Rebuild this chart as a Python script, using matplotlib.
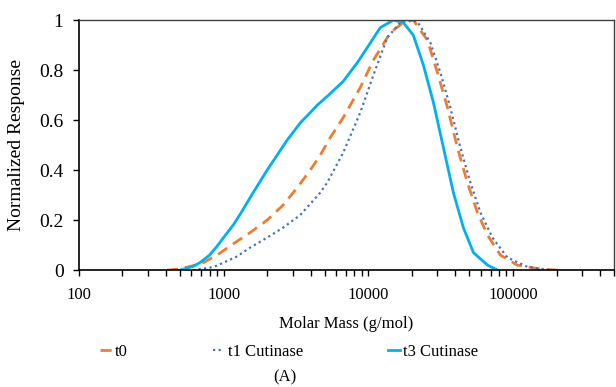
import numpy as np
import matplotlib.pyplot as plt
from matplotlib.ticker import FixedLocator, LogLocator, NullFormatter, FuncFormatter

# molar mass (g/mol) and normalized response
t0_mass = [407, 500, 586, 700, 807, 900, 1057, 1165, 1525, 2000, 2580,
           3230, 3970, 4660, 5460, 6710, 8800, 10840, 14200, 17460, 20460,
           25600, 30060, 35260, 41300, 48400, 56800, 66700, 81800, 107000,
           155000, 203000]
t0_resp = [0.0, 0.005, 0.015, 0.025, 0.045, 0.06, 0.088, 0.105, 0.15, 0.20, 0.26,
           0.33, 0.40, 0.46, 0.53, 0.61, 0.73, 0.84, 0.95, 0.99, 1.0,
           0.92, 0.79, 0.65, 0.49, 0.35, 0.23, 0.14, 0.06, 0.02,
           0.004, 0.0]

t1_mass = [615, 807, 900, 1240, 1525, 2000, 2580, 3380, 3970, 4660, 5200,
           6710, 8800, 10840, 13520, 16640, 19540, 21800, 26850, 31500,
           36900, 43300, 50800, 59600, 72100, 91600, 126000, 182000]
t1_resp = [0.0, 0.01, 0.018, 0.055, 0.09, 0.13, 0.17, 0.22, 0.265, 0.31, 0.35,
           0.47, 0.63, 0.78, 0.93, 0.99, 1.0, 0.995, 0.91, 0.79,
           0.65, 0.49, 0.35, 0.23, 0.13, 0.05, 0.013, 0.0]

t3_mass = [500, 615, 687, 800, 900, 1000, 1165, 1340, 1525, 2000, 2750,
           3400, 3970, 4440, 5200, 6710, 8400, 9840, 12100, 14900, 17460,
           20460, 24040, 28200, 33050, 38740, 45400, 53300, 66700, 78200]
t3_resp = [0.0, 0.015, 0.03, 0.06, 0.095, 0.13, 0.18, 0.235, 0.29, 0.40, 0.52,
           0.59, 0.63, 0.66, 0.695, 0.755, 0.83, 0.89, 0.97, 1.0, 0.99,
           0.94, 0.82, 0.67, 0.49, 0.31, 0.17, 0.07, 0.02, 0.0]

x_ticks = [100, 1000, 10000, 100000]
y_ticks = [0, 0.2, 0.4, 0.6, 0.8, 1]
y_tick_labels = ['0', '0.2', '0.4', '0.6', '0.8', '1']

plt.rcParams['font.family'] = ['Liberation Serif', 'DejaVu Serif']
plt.rcParams['font.size'] = 12

fig = plt.figure(figsize=(6.16, 3.87), dpi=100)
ax = fig.add_axes([0.128, 0.302, 0.869, 0.646])

ax.plot(t0_mass, t0_resp, color='#ED7D31', lw=2, ls=(0, (4, 2.5)), label='t0')
ax.plot(t1_mass, t1_resp, color='#4472C4', lw=1.6, ls=(0, (1, 1.5)), label='t1 Cutinase')
ax.plot(t3_mass, t3_resp, color='#00B0F0', lw=2, label='t3 Cutinase')

ax.set_xscale('log')
ax.set_xlim(100, 5e5)
ax.set_ylim(0, 1)
ax.xaxis.set_major_locator(FixedLocator(x_ticks))
ax.xaxis.set_major_formatter(FuncFormatter(lambda v, p: f'{int(round(v))}'))
ax.xaxis.set_minor_locator(LogLocator(base=10, subs=np.arange(2, 10)))
ax.xaxis.set_minor_formatter(NullFormatter())
ax.set_yticks(y_ticks)
ax.set_yticklabels(y_tick_labels, fontsize=14)
ax.tick_params(axis='both', which='both', direction='out', length=4, width=1, colors='black')
ax.tick_params(axis='x', which='major', pad=8)
ax.tick_params(axis='y', which='major', pad=7)

for s in ['top', 'right']:
    ax.spines[s].set_color('#404040')
    ax.spines[s].set_linewidth(1)
for s in ['left', 'bottom']:
    ax.spines[s].set_color('black')
    ax.spines[s].set_linewidth(1.2)

ax.set_xlabel('Molar Mass (g/mol)', labelpad=9.5)
ax.set_ylabel('Normalized Response', fontsize=14)
ax.yaxis.set_label_coords(-0.10, 0.5)

fig.legend(loc='center', bbox_to_anchor=(289 / 616, 1 - 352 / 387), ncol=3,
           frameon=False, handlelength=0.7, handletextpad=0.2, columnspacing=5.1)
fig.text(285 / 616, 1 - 377 / 387, '(A)', ha='center', va='center')

fig.savefig('out.png', dpi=100)
